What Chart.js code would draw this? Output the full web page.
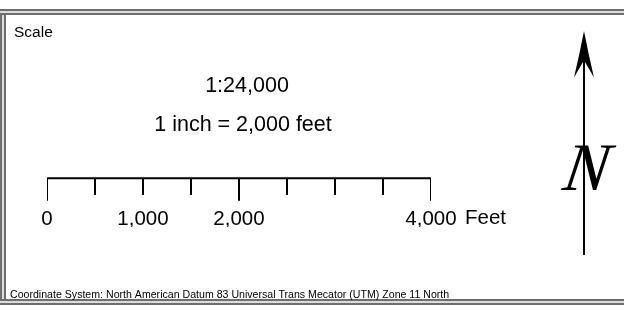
<!DOCTYPE html>
<html>
<head>
<meta charset="utf-8">
<script src="https://cdn.jsdelivr.net/npm/chart.js@4/dist/chart.umd.min.js"></script>
<style>
html,body{margin:0;padding:0;background:#fff;}
canvas{display:block;}
</style>
</head>
<body>
<canvas id="c" width="624" height="311"></canvas>
<script>
// ---- data ----
const segmentDistancesFt = [0, 500, 1000, 1500, 2000, 2500, 3000, 3500, 4000];
const majorDistancesFt = [0, 2000, 4000];
const labelDistancesFt = [0, 1000, 2000, 4000];
const tickLabels = ['0', '1,000', '2,000', '4,000'];
const unitLabel = 'Feet';
const panelTitle = 'Scale';
const scaleRatio = '1:24,000';
const scaleEquivalence = '1 inch = 2,000 feet';
const coordinateNote = 'Coordinate System: North American Datum 83 Universal Trans Mecator (UTM) Zone 11 North';
const northLabel = 'N';

// ---- styling constants ----
const MAJOR_LEN = 19, MINOR_LEN = 14;
const FONT = '"Liberation Sans", Arial, sans-serif';

const barData = [
  {x: segmentDistancesFt[0], y: 0},
  {x: segmentDistancesFt[segmentDistancesFt.length - 1], y: 0}
];
const tickData = [];
segmentDistancesFt.forEach(d => {
  const len = majorDistancesFt.includes(d) ? MAJOR_LEN : MINOR_LEN;
  tickData.push({x: d, y: 0}, {x: d, y: -len}, {x: d, y: null});
});

const decor = {
  id: 'decor',
  afterDraw(chart) {
    const ctx = chart.ctx, W = chart.width;
    ctx.save();
    // frame
    const dark = '#6e6e6e', light = '#dcdcdc';
    ctx.fillStyle = light;
    ctx.fillRect(0, 11, W, 2);
    ctx.fillRect(0, 301, W, 2);
    ctx.fillRect(2, 15, 2, 284);
    ctx.fillStyle = dark;
    ctx.fillRect(0, 9, W, 2);
    ctx.fillRect(0, 13, W, 2);
    ctx.fillRect(0, 299, W, 2);
    ctx.fillRect(0, 303, W, 2);
    ctx.fillRect(0, 15, 2, 284);
    ctx.fillRect(4, 15, 2, 284);

    // texts
    ctx.fillStyle = '#000';
    ctx.textBaseline = 'alphabetic';
    ctx.textAlign = 'left';
    ctx.font = '15.5px ' + FONT;
    ctx.fillText(panelTitle, 14, 36.5);
    ctx.textAlign = 'center';
    ctx.font = '21.5px ' + FONT;
    ctx.fillText(scaleRatio, 247, 92);
    ctx.fillText(scaleEquivalence, 243, 130.5);
    ctx.textAlign = 'left';
    ctx.font = '20.5px ' + FONT;
    ctx.fillText(unitLabel, 465, 224);
    ctx.font = '10.6px ' + FONT;
    ctx.fillText(coordinateNote, 10, 298);

    // north arrow
    ctx.fillStyle = '#000';
    ctx.fillRect(583, 60, 2, 255 - 60);
    ctx.beginPath();
    ctx.moveTo(584, 31);
    ctx.quadraticCurveTo(588.6, 55, 594, 77.5);
    ctx.lineTo(585, 62);
    ctx.lineTo(583, 62);
    ctx.lineTo(574, 77.5);
    ctx.quadraticCurveTo(579.4, 55, 584, 31);
    ctx.closePath();
    ctx.fill();

    ctx.save();
    ctx.translate(584, 190);
    ctx.transform(1, 0, -0.15, 1, 0, 0);
    ctx.font = 'italic 68px "Liberation Serif", "DejaVu Serif", serif';
    ctx.textAlign = 'center';
    ctx.fillText(northLabel, 0, 0);
    ctx.restore();
    ctx.restore();
  }
};

new Chart(document.getElementById('c'), {
  type: 'line',
  data: {
    datasets: [
      {label: 'bar', data: barData, borderColor: '#000', borderWidth: 2, pointRadius: 0,
       borderCapStyle: 'square', tension: 0},
      {label: 'ticks', data: tickData, borderColor: '#000', borderWidth: 2, pointRadius: 0,
       borderCapStyle: 'butt', spanGaps: false, tension: 0}
    ]
  },
  options: {
    responsive: false,
    devicePixelRatio: 1,
    animation: false,
    events: [],
    layout: {padding: {left: 47, right: 193, top: 177, bottom: 83.9}},
    plugins: {legend: {display: false}, tooltip: {enabled: false}, title: {display: false}},
    scales: {
      x: {
        type: 'linear', min: 0, max: 4000, offset: false,
        grid: {display: false, drawTicks: false},
        border: {display: false},
        afterBuildTicks: s => { s.ticks = labelDistancesFt.map(v => ({value: v})); },
        ticks: {
          autoSkip: false, maxRotation: 0, minRotation: 0, padding: 4.5, color: '#000',
          font: {family: FONT, size: 20.5},
          callback: v => { const i = labelDistancesFt.indexOf(v); return i >= 0 ? tickLabels[i] : ''; }
        }
      },
      y: {type: 'linear', min: -20, max: 1, display: false}
    }
  },
  plugins: [decor]
});
</script>
</body>
</html>
